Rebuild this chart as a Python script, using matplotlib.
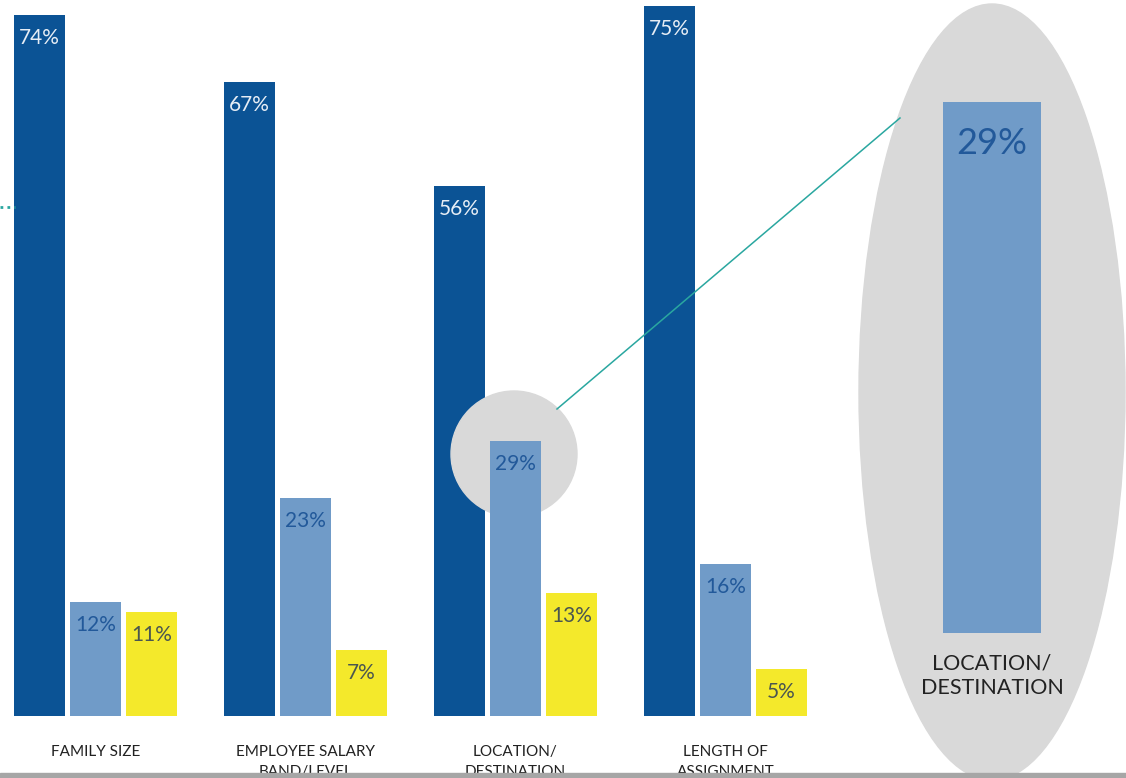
import matplotlib.pyplot as plt
from matplotlib.patches import Ellipse, Rectangle
import numpy as np

categories = ["FAMILY SIZE", "EMPLOYEE SALARY\nBAND/LEVEL", "LOCATION/\nDESTINATION", "LENGTH OF\nASSIGNMENT"]
series1 = [74, 67, 56, 75]
series2 = [12, 23, 29, 16]
series3 = [11, 7, 13, 5]
highlight_value = 29
highlight_label = "LOCATION/\nDESTINATION"

dark = "#0b5395"
light = "#709bc8"
yellow = "#f4e92b"
gray = "#d9d9d9"
teal = "#2aa7a0"
font = ["Lato", "DejaVu Sans"]

W, H = 1126, 778
fig = plt.figure(figsize=(W / 100, H / 100), dpi=100)
ax = fig.add_axes([0, 0, 1, 1])

# scale: one group = 210 px, 1% = 9.47 px, baseline 716 px from top
x0, gpx, ppx, base = 95.5, 210.0, 9.47, 716.0
ax.set_xlim(-x0 / gpx, (W - x0) / gpx)
ax.set_ylim(-(H - base) / ppx, base / ppx)
ax.axis("off")


def px(x, y):
    return (x - x0) / gpx, (base - y) / ppx


x = np.arange(len(categories))
bw, step = 51 / gpx, 56 / gpx
b1 = ax.bar(x - step, series1, bw, color=dark, zorder=2)
b2 = ax.bar(x, series2, bw, color=light, zorder=4)
b3 = ax.bar(x + step, series3, bw, color=yellow, zorder=4)

off = 23 / ppx
for bars, vals, col in [(b1, series1, "#e6edf5"), (b2, series2, "#22599a"), (b3, series3, "#4a5650")]:
    for r, v in zip(bars, vals):
        ax.text(r.get_x() + r.get_width() / 2, v - off, f"{v}%", ha="center", va="center",
                fontsize=15, color=col, family=font, zorder=5)

for i, c in enumerate(categories):
    ax.text(i, px(0, 745)[1], c, ha="center", va="top", fontsize=11, color="#222222",
            family=font, linespacing=1.55, zorder=5)

# highlight circle around the 29% bar
cx, cy = px(514, 454)
ax.add_patch(Ellipse((cx, cy), 126 / gpx, 126 / ppx, color=gray, zorder=3))

# big ellipse on the right
ex, ey = px(992, 392)
ax.add_patch(Ellipse((ex, ey), 266 / gpx, 776 / ppx, color=gray, zorder=1))

# connector and dotted line
p1, p2 = px(557, 409), px(900, 118)
ax.plot([p1[0], p2[0]], [p1[1], p2[1]], color=teal, lw=1.1, zorder=3)
d1, d2 = px(0, 207), px(15, 207)
ax.plot([d1[0], d2[0]], [d1[1], d2[1]], color=teal, lw=2, ls=(0, (1, 1.5)), zorder=3)

ax.text(ex, px(0, 676)[1], highlight_label, ha="center", va="center", fontsize=15.5,
        color="#222222", family=font, linespacing=1.3, zorder=5)

# bottom strip cutting labels
s1, s2 = px(0, 773), px(W, H)
ax.add_patch(Rectangle((s1[0], s2[1]), s2[0] - s1[0], s1[1] - s2[1], color="#a6a6a6",
                       zorder=10, clip_on=False))

# zoomed bar inside the ellipse
ax_in = fig.add_axes([943 / W, (H - 633) / H, 98 / W, 531 / H])
ax_in.bar([0], [highlight_value], 1.0, color=light)
ax_in.set_xlim(-0.5, 0.5)
ax_in.set_ylim(0, highlight_value)
ax_in.axis("off")
ax_in.text(0, highlight_value - 42 / 531 * highlight_value, f"{highlight_value}%", ha="center",
           va="center", fontsize=26, color="#22599a", family=font)

fig.savefig("out.png", dpi=100)
